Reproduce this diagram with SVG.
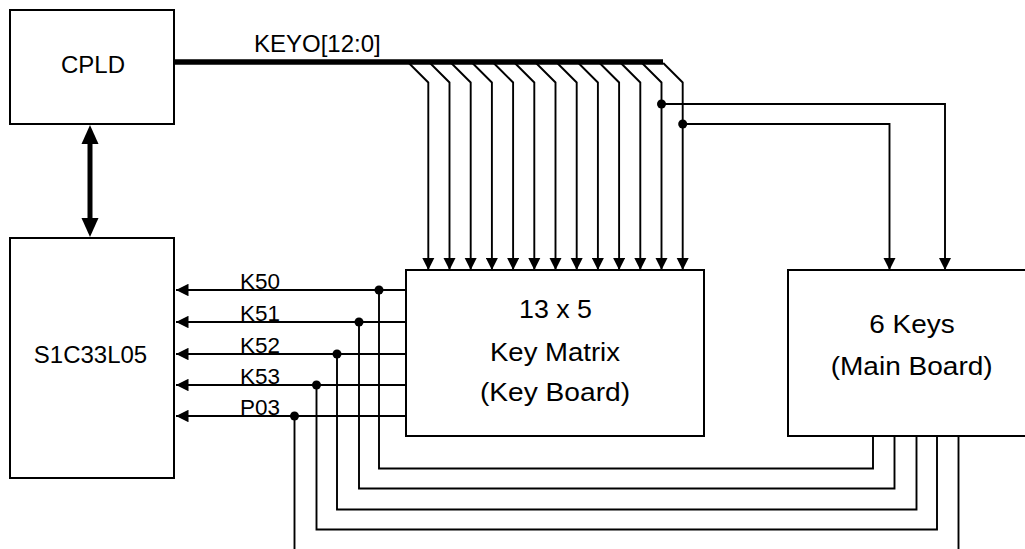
<svg xmlns="http://www.w3.org/2000/svg" width="1025" height="549" viewBox="0 0 1025 549">
<style>
.box{fill:#fff;stroke:#000;stroke-width:2}
.w{fill:none;stroke:#000;stroke-width:1.9}
.t{font-family:"Liberation Sans",Arial,sans-serif;fill:#000}
.bt{font-size:25px;text-anchor:middle}
.lt{font-size:21.5px}
.dot{fill:#000}
</style>
<defs>
<marker id="ah" markerUnits="userSpaceOnUse" viewBox="0 0 12 12" refX="12" refY="6" markerWidth="12.5" markerHeight="12.5" orient="auto">
<path d="M0,0 L12,6 L0,12 z" fill="#000"/>
</marker>
</defs>

<g id="cpld">
<rect class="box" x="10" y="10" width="164" height="114"/>
<text class="t bt" x="93" y="73" style="font-size:24px">CPLD</text>
</g>
<g id="s1c33l05">
<rect class="box" x="10" y="238" width="164" height="240"/>
<text class="t bt" x="90.5" y="362.5" style="font-size:24px">S1C33L05</text>
</g>
<g id="keymatrix">
<rect class="box" x="406" y="270" width="298" height="166"/>
<text class="t bt" x="555.5" y="317.5" textLength="73" lengthAdjust="spacingAndGlyphs">13 x 5</text>
<text class="t bt" x="555" y="361" textLength="130" lengthAdjust="spacingAndGlyphs">Key Matrix</text>
<text class="t bt" x="555" y="400.5" textLength="150" lengthAdjust="spacingAndGlyphs">(Key Board)</text>
</g>
<g id="mainboard">
<rect class="box" x="788" y="270" width="250" height="166"/>
<text class="t bt" x="912" y="333.3" textLength="85.5" lengthAdjust="spacingAndGlyphs">6 Keys</text>
<text class="t bt" x="911.7" y="375.3" textLength="162" lengthAdjust="spacingAndGlyphs">(Main Board)</text>
</g>

<g id="connectors">
<line x1="90" y1="140" x2="90" y2="222" stroke="#000" stroke-width="5"/>
<polygon points="90,125 81.5,144 98.5,144" fill="#000"/>
<polygon points="90,237 81.5,218 98.5,218" fill="#000"/>
<line x1="174" y1="62" x2="663" y2="62" stroke="#000" stroke-width="5.5"/>
<text class="t" x="254" y="51.5" style="font-size:24px">KEYO[12:0]</text>
<path class="w" marker-end="url(#ah)" d="M408.8,63 L428.3,82.5 L428.3,270"/>
<path class="w" marker-end="url(#ah)" d="M430,63 L449.5,82.5 L449.5,270"/>
<path class="w" marker-end="url(#ah)" d="M451.2,63 L470.7,82.5 L470.7,270"/>
<path class="w" marker-end="url(#ah)" d="M472.4,63 L491.9,82.5 L491.9,270"/>
<path class="w" marker-end="url(#ah)" d="M493.6,63 L513.1,82.5 L513.1,270"/>
<path class="w" marker-end="url(#ah)" d="M514.8,63 L534.3,82.5 L534.3,270"/>
<path class="w" marker-end="url(#ah)" d="M536,63 L555.5,82.5 L555.5,270"/>
<path class="w" marker-end="url(#ah)" d="M557.2,63 L576.7,82.5 L576.7,270"/>
<path class="w" marker-end="url(#ah)" d="M578.4,63 L597.9,82.5 L597.9,270"/>
<path class="w" marker-end="url(#ah)" d="M599.6,63 L619.1,82.5 L619.1,270"/>
<path class="w" marker-end="url(#ah)" d="M620.8,63 L640.3,82.5 L640.3,270"/>
<path class="w" marker-end="url(#ah)" d="M642,63 L661.5,82.5 L661.5,270"/>
<path class="w" marker-end="url(#ah)" d="M663.2,63 L682.7,82.5 L682.7,270"/>
<path class="w" marker-end="url(#ah)" d="M661.5,104 L945,104 L945,270"/>
<path class="w" marker-end="url(#ah)" d="M682.7,124 L889.5,124 L889.5,270"/>
<circle class="dot" cx="661.5" cy="104" r="4.5"/>
<circle class="dot" cx="682.7" cy="124" r="4.5"/>
<path class="w" marker-end="url(#ah)" d="M406,290 L176,290"/>
<path class="w" marker-end="url(#ah)" d="M406,322 L176,322"/>
<path class="w" marker-end="url(#ah)" d="M406,354 L176,354"/>
<path class="w" marker-end="url(#ah)" d="M406,385 L176,385"/>
<path class="w" marker-end="url(#ah)" d="M406,416 L176,416"/>
<text class="t lt" x="240" y="288.5" textLength="40" lengthAdjust="spacingAndGlyphs">K50</text>
<text class="t lt" x="240" y="320.5" textLength="40" lengthAdjust="spacingAndGlyphs">K51</text>
<text class="t lt" x="240" y="352.5" textLength="40" lengthAdjust="spacingAndGlyphs">K52</text>
<text class="t lt" x="240" y="383.5" textLength="40" lengthAdjust="spacingAndGlyphs">K53</text>
<text class="t lt" x="240" y="414.5" textLength="40" lengthAdjust="spacingAndGlyphs">P03</text>
<path class="w" d="M379,290 L379,468.5 L873,468.5 L873,436"/>
<path class="w" d="M359,322 L359,488.5 L894.5,488.5 L894.5,436"/>
<path class="w" d="M337,354 L337,509.5 L916.5,509.5 L916.5,436"/>
<path class="w" d="M316.5,385 L316.5,529.5 L937,529.5 L937,436"/>
<path class="w" d="M294.5,416 L294.5,549"/>
<path class="w" d="M958.5,436 L958.5,549"/>
<circle class="dot" cx="379" cy="290" r="4.5"/>
<circle class="dot" cx="359" cy="322" r="4.5"/>
<circle class="dot" cx="337" cy="354" r="4.5"/>
<circle class="dot" cx="316.5" cy="385" r="4.5"/>
<circle class="dot" cx="294.5" cy="416" r="4.5"/>
</g>
</svg>
